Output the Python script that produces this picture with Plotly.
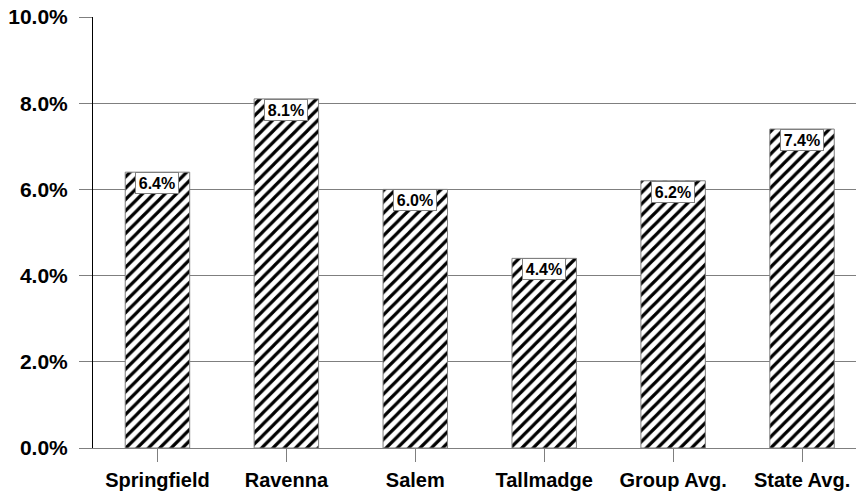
import plotly.graph_objects as go

# Share of each locality (percent)
categories = ["Springfield", "Ravenna", "Salem", "Tallmadge", "Group Avg.", "State Avg."]
values = [6.4, 8.1, 6.0, 4.4, 6.2, 7.4]
y_ticks = [0, 2, 4, 6, 8, 10]

FONT = "Liberation Sans, Arial, sans-serif"

fig = go.Figure()
fig.add_trace(go.Bar(
    x=categories,
    y=values,
    width=0.5,
    marker=dict(
        color="white",
        line=dict(color="#7f7f7f", width=1),
        pattern=dict(shape="/", fgcolor="black", bgcolor="white", fgopacity=1,
                     size=8, solidity=0.4),
    ),
    hoverinfo="skip",
))

# Value labels in white boxes at the top of each bar
for c, v in zip(categories, values):
    fig.add_annotation(
        x=c, y=v, xref="x", yref="y",
        text=f"<b>{v:.1f}%</b>",
        showarrow=False,
        yanchor="top",
        font=dict(family=FONT, size=16, color="black"),
        bgcolor="white",
        bordercolor="#7f7f7f",
        borderwidth=1,
        borderpad=0,
        width=42,
        height=20,
    )

fig.update_layout(
    width=856, height=494,
    margin=dict(l=93, r=0, t=17, b=46),
    plot_bgcolor="white",
    paper_bgcolor="white",
    showlegend=False,
    bargap=0.5,
    font=dict(family=FONT, size=20, color="black"),
)

fig.update_xaxes(
    range=[-0.5, 5.5 - 10.5 / 129],
    showgrid=False,
    showline=True, linecolor="#7f7f7f", linewidth=1,
    ticks="outside", ticklen=13, tickcolor="#7f7f7f",
    tickfont=dict(family=FONT, size=20, color="black", weight="bold"),
    ticklabelstandoff=1,
)

fig.update_yaxes(
    range=[0, 10],
    tickvals=y_ticks,
    ticktext=[f"{t:.1f}%" for t in y_ticks],
    showgrid=True, gridcolor="#7f7f7f", gridwidth=1,
    zeroline=False,
    showline=True, linecolor="black", linewidth=1,
    ticks="outside", ticklen=13, tickcolor="#7f7f7f",
    tickfont=dict(family=FONT, size=21, color="black", weight="bold"),
    ticklabelstandoff=7,
)

fig.write_html("out.html")
